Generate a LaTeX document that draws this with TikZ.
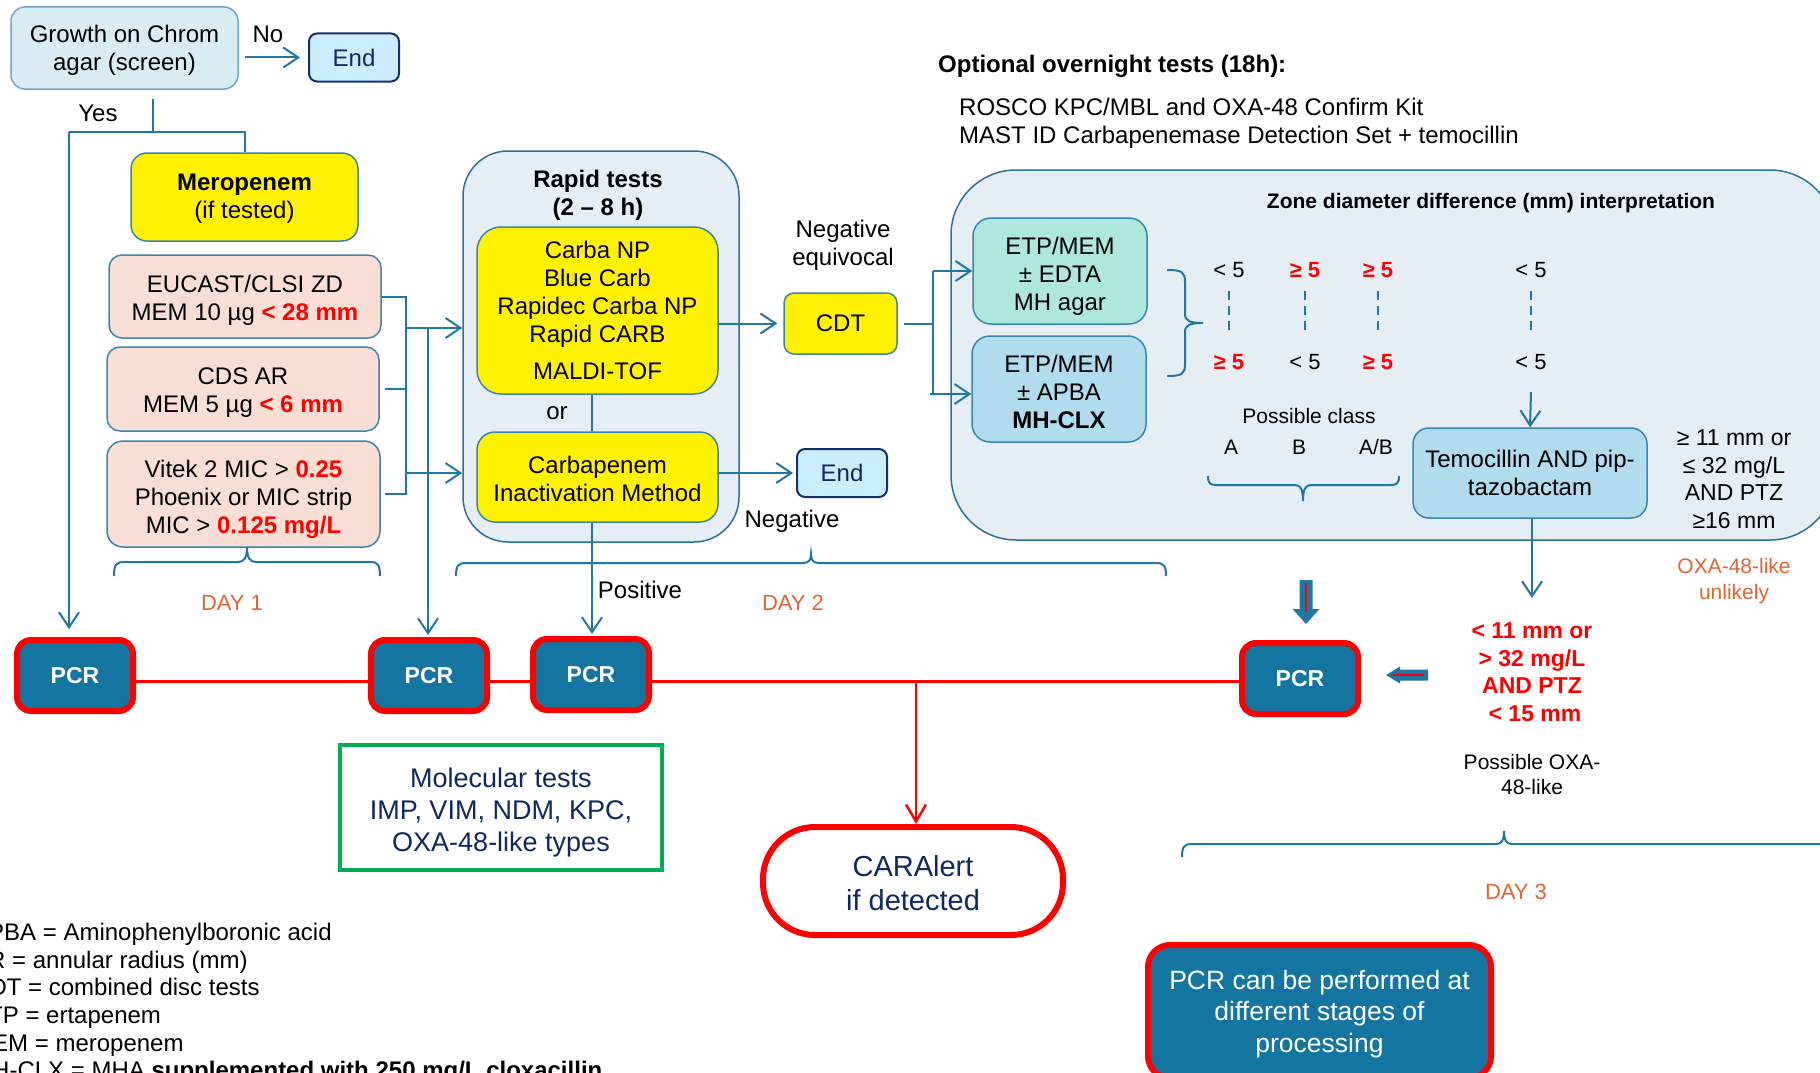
\documentclass[tikz,border=0pt]{standalone}
\usepackage{fontspec}
\setmainfont{Liberation Sans}
\usetikzlibrary{arrows.meta}

\newcommand\fsz[2]{\fontsize{#1}{#2}\selectfont}
% invisible strut that sets the top of the first text line
\newcommand\tp[1]{\rule{0pt}{#1pt}}
\definecolor{lnblue}{RGB}{33,119,163}
\definecolor{bxborder}{RGB}{60,132,176}
\definecolor{growfill}{RGB}{218,236,243}
\definecolor{growline}{RGB}{110,165,205}
\definecolor{endfill}{RGB}{204,236,255}
\definecolor{endline}{RGB}{20,48,110}
\definecolor{peach}{RGB}{248,222,212}
\definecolor{panelfill}{RGB}{230,238,245}
\definecolor{panelline}{RGB}{40,115,155}
\definecolor{aqua}{RGB}{174,232,220}
\definecolor{skyb}{RGB}{176,220,238}
\definecolor{pcrfill}{RGB}{20,118,160}
\definecolor{navy}{RGB}{14,40,100}
\definecolor{dayorange}{RGB}{226,100,50}
\definecolor{molgreen}{RGB}{0,176,80}
\definecolor{alertred}{RGB}{255,0,0}
\newcommand\hl[1]{\textcolor{alertred}{\textbf{#1}}}

\begin{document}
\begin{tikzpicture}[x=1pt,y=-1pt,
  txt/.style={inner sep=0pt, align=center, font=\fsz{24}{28}},
  box/.style={txt, draw=bxborder, line width=1.5pt, rounded corners=13pt},
  endbox/.style={txt, draw=endline, fill=endfill, line width=2pt, rounded corners=8pt,
    minimum width=90pt, minimum height=48pt, text=navy},
  panel/.style={draw=panelline, fill=panelfill, line width=1.5pt, inner sep=0pt},
  pcrbox/.style={draw=alertred, line width=6pt, fill=pcrfill, rounded corners=14pt,
    text=white, font=\fsz{23}{27}\bfseries, minimum width=116pt, minimum height=71pt, inner sep=0pt},
  cell/.style={txt, font=\fsz{22}{26}},
  cellhi/.style={cell, text=alertred, font=\fsz{22}{26}\bfseries},
  small/.style={txt, font=\fsz{21}{25}},
  daylbl/.style={txt, font=\fsz{22}{26}, text=dayorange},
  conn/.style={draw=lnblue, line width=2pt},
  arr/.style={conn, -{Straight Barb[length=15pt,width=20pt]}},
  redline/.style={draw=alertred, line width=3pt},
  redarr/.style={draw=alertred, line width=2.5pt, -{Straight Barb[length=17pt,width=20pt]}},
  dashln/.style={draw=lnblue, line width=2pt, dash pattern=on 9pt off 6pt}]
\useasboundingbox (0,0) rectangle (1820,1073);
\fill[white] (0,0) rectangle (1820,1073);

% large grouping panels
\node[panel, minimum width=276pt, minimum height=391pt, rounded corners=45pt] (rapid) at (601,346.5) {};
\node[panel, minimum width=884pt, minimum height=370pt, rounded corners=65pt] (zone) at (1393,355) {};

% screening and day-1 criteria
\node[box, fill=growfill, draw=growline, minimum width=227pt, minimum height=82pt, rounded corners=14pt] (growth) at (124.5,48) {\tp{21}Growth on Chrom\\agar (screen)};
\node[endbox] (end1) at (354,57.5) {End};
\node[txt] (nolbl) at (268,34) {No};
\node[txt] (yeslbl) at (98,113) {Yes};
\node[box, fill=yellow, minimum width=227pt, minimum height=88pt, rounded corners=16pt] (mero) at (244.5,197) {\tp{20}\textbf{Meropenem}\\(if tested)};
\node[box, fill=peach, minimum width=272pt, minimum height=83pt] (eucast) at (245,296.5) {\tp{24.5}EUCAST/CLSI ZD\\MEM 10 µg \hl{< 28 mm}};
\node[box, fill=peach, minimum width=272pt, minimum height=84pt] (cds) at (243,389) {\tp{24.5}CDS AR\\MEM 5 µg \hl{< 6 mm}};
\node[box, fill=peach, minimum width=273pt, minimum height=106pt, rounded corners=16pt] (vitek) at (243.5,494) {\tp{28}Vitek 2 MIC > \hl{0.25}\\Phoenix or MIC strip\\MIC > \hl{0.125 mg/L}};

% rapid tests
\node[txt, font=\fsz{24}{28}\bfseries] (rapidttl) at (598,195) {Rapid tests\\(2 – 8 h)};
\node[box, fill=yellow, minimum width=241pt, minimum height=167pt, rounded corners=24pt] (yel1) at (597.5,310.5) {Carba NP\\Blue Carb\\Rapidec Carba NP\\Rapid CARB\\[9pt]MALDI-TOF};
\node[txt] (orlbl) at (557,413) {or};
\node[box, fill=yellow, minimum width=241pt, minimum height=90pt, rounded corners=18pt] (yel2) at (597.5,477) {\tp{22}Carbapenem\\Inactivation Method};
\node[box, fill=yellow, minimum width=113pt, minimum height=61pt, rounded corners=10pt] (cdt) at (840.5,323.5) {CDT};
\node[txt] (negeq) at (843,245) {Negative\\equivocal};
\node[endbox] (end2) at (842,473) {End};
\node[txt] (neglbl) at (792,521) {Negative};
\node[txt] (poslbl) at (640,590) {Positive};

% overnight tests
\node[txt, anchor=north west, align=left, font=\fsz{24}{28}\bfseries] (opttitle) at (938,55) {Optional overnight tests (18h):};
\node[txt, anchor=north west, align=left] (optlist) at (959,98) {ROSCO KPC/MBL and OXA-48 Confirm Kit\\MAST ID Carbapenemase Detection Set + temocillin};
\node[txt, font=\fsz{21}{25}\bfseries] (zonettl) at (1491,203) {Zone diameter difference (mm) interpretation};
\node[box, fill=aqua, minimum width=174pt, minimum height=106pt, rounded corners=18pt] (etp1) at (1060,271) {\tp{27}ETP/MEM\\± EDTA\\MH agar};
\node[box, fill=skyb, minimum width=174pt, minimum height=106pt, rounded corners=18pt] (etp2) at (1059,389) {\tp{23.5}ETP/MEM\\± APBA\\\textbf{MH-CLX}};

% interpretation table
\node[cell] (c1t) at (1229,270) {< 5};
\node[cellhi] (c2t) at (1305,270) {≥ 5};
\node[cellhi] (c3t) at (1378,270) {≥ 5};
\node[cell] (c4t) at (1531,270) {< 5};
\node[cellhi] (c1b) at (1229,362) {≥ 5};
\node[cell] (c2b) at (1305,362) {< 5};
\node[cellhi] (c3b) at (1378,362) {≥ 5};
\node[cell] (c4b) at (1531,362) {< 5};
\foreach \c in {c1t,c2t,c3t,c4t}
  \draw[dashln] ([yshift=-21pt]\c.center) -- ([yshift=-65pt]\c.center);
\node[small] (pclass) at (1309,416) {Possible class};
\node[small] (clA) at (1231,447) {A};
\node[small] (clB) at (1299,447) {B};
\node[small] (clAB) at (1376,447) {A/B};
\node[box, fill=skyb, minimum width=234pt, minimum height=90pt, rounded corners=16pt] (temo) at (1530,473) {Temocillin AND pip-\\tazobactam};
\node[txt, font=\fsz{23}{27.5}] (hitemo) at (1734,479) {≥ 11 mm or\\≤ 32 mg/L\\AND PTZ\\≥16 mm};
\node[txt, font=\fsz{21}{26}, text=dayorange] (unlikely) at (1734,581) {OXA-48-like\\unlikely};
\node[txt, font=\fsz{23}{27.5}\bfseries, text=alertred] (lowtemo) at (1532,672) {< 11 mm or\\> 32 mg/L\\AND PTZ\\\hspace*{6pt}< 15 mm};
\node[small] (possoxa) at (1532,774) {Possible OXA-\\48-like};

% PCR stages
\node[pcrbox] (pcr1) at (75,675.5) {PCR};
\node[pcrbox] (pcr2) at (429,675.5) {PCR};
\node[pcrbox] (pcr3) at (591,674.5) {PCR};
\node[pcrbox] (pcr4) at (1300,678.5) {PCR};

% day labels
\node[daylbl] (day1) at (232,603) {DAY 1};
\node[daylbl] (day2) at (793,603) {DAY 2};
\node[daylbl] (day3) at (1516,892) {DAY 3};

% bottom boxes
\node[txt, draw=molgreen, line width=4pt, fill=white, minimum width=322pt, minimum height=125pt, text=navy, font=\fsz{27}{32}] (molec) at (501,807.5) {\tp{30}Molecular tests\\IMP, VIM, NDM, KPC,\\OXA-48-like types};
\node[txt, draw=alertred, line width=6pt, fill=white, minimum width=300pt, minimum height=108pt, rounded corners=52pt, text=navy, font=\fsz{29}{34}] (caral) at (913,881) {\tp{25}CARAlert\\if detected};
\node[txt, draw=alertred, line width=6pt, fill=pcrfill, minimum width=343pt, minimum height=133pt, rounded corners=22pt, text=white, font=\fsz{26.5}{31.5}] (pcrnote) at (1319.5,1011.5) {\tp{24}PCR can be performed at\\different stages of\\processing};

% abbreviations
\node[txt, anchor=north west, align=left, font=\fsz{24}{27.6}] (legend) at (-28,923) {APBA = Aminophenylboronic acid\\AR = annular radius (mm)\\CDT = combined disc tests\\ETP = ertapenem\\MEM = meropenem\\MH-CLX = MHA \textbf{supplemented with 250 mg/L cloxacillin}};

% connectors: screening
\draw[arr, shorten <=6pt, shorten >=8pt] (growth.east |- end1.west) -- (end1.west);
\coordinate (yesJ) at (153,132);
\coordinate (pcrL) at (69,132);
\draw[conn] ([yshift=-9pt]growth.south -| yesJ) -- (yesJ);
\draw[conn] (pcrL) -| (mero.north);
\draw[arr, shorten >=8pt] (pcrL) -- (pcrL |- pcr1.north);

% connectors: day-1 criteria into rapid tests
\coordinate (brtop) at (406,296.5);
\coordinate (brbot) at (406,494);
\draw[conn] (eucast.east) -- (brtop) -- (brbot) -- ([xshift=4pt]vitek.east);
\draw[conn] ([xshift=5pt]cds.east) -- (cds.east -| brtop);
\coordinate (inA) at (406,328);
\coordinate (inB) at (406,473);
\draw[arr] (inA) -- (inA -| rapid.west);
\draw[arr] (inB) -- (inB -| rapid.west);
\coordinate (pcr2in) at (428,328);
\draw[arr, shorten >=2pt] (pcr2in) -- (pcr2in |- pcr2.north);

% connectors: rapid tests
\coordinate (orx) at (592,0);
\draw[conn] (yel1.south -| orx) -- (yel2.north -| orx);
\draw[arr, shorten >=2pt] (yel2.south -| orx) -- (pcr3.north -| orx);
\draw[arr, shorten >=6pt] (yel1.east |- cdt.west) -- (cdt.west);
\draw[arr, shorten >=3pt] (yel2.east |- end2.west) -- (end2.west);

% connectors: CDT to disc tests
\coordinate (sp) at (933,0);
\draw[conn] ([xshift=6pt]cdt.east) -- (cdt.east -| sp);
\draw[conn] (etp1.west -| sp) -- ([yshift=-5pt]etp2.west -| sp);
\draw[arr] (etp1.west -| sp) -- (etp1.west);
\draw[arr] ([xshift=-3pt,yshift=-5pt]etp2.west -| sp) -- ([yshift=-5pt]etp2.west);

% braces
\draw[conn] (1167,270) .. controls (1182,270) and (1185,272) .. (1185,282) -- (1185,314)
  .. controls (1185,321) and (1190,323) .. (1203,323)
  .. controls (1190,323) and (1185,325) .. (1185,332) -- (1185,364)
  .. controls (1185,374) and (1182,376) .. (1167,376);
\draw[conn] (1208,476) .. controls (1208,483) and (1210,485) .. (1216,485) -- (1295,485)
  .. controls (1301,485) and (1303,490) .. (1303,501)
  .. controls (1303,490) and (1305,485) .. (1311,485) -- (1391,485)
  .. controls (1397,485) and (1399,483) .. (1399,476);
\draw[conn] (114,576) .. controls (114,565) and (116,562) .. (124,562) -- (238,562)
  .. controls (244,562) and (247,558) .. (247,547)
  .. controls (247,558) and (250,562) .. (256,562) -- (370,562)
  .. controls (378,562) and (380,565) .. (380,576);
\draw[conn] (456,576) .. controls (456,566) and (458,563) .. (466,563) -- (803,563)
  .. controls (809,563) and (811,560) .. (811,554)
  .. controls (811,560) and (813,563) .. (819,563) -- (1156,563)
  .. controls (1164,563) and (1166,566) .. (1166,576);
\draw[conn] (1182,857) .. controls (1182,847) and (1184,844) .. (1192,844) -- (1496,844)
  .. controls (1502,844) and (1504,840) .. (1504,831)
  .. controls (1504,840) and (1506,844) .. (1512,844) -- (1830,844);

% connectors: temocillin step
\draw[arr] ([yshift=-30pt]c4b.center) -- (temo.north);
\coordinate (redtop) at (1532,598);
\draw[arr] (temo.south -| redtop) -- (redtop);

% block arrows towards the last PCR
\fill[lnblue] (1299.5,580) -- (1312.5,580) -- (1312.5,609) -- (1319.5,609) -- (1306,624)
  -- (1292.5,609) -- (1299.5,609) -- cycle;
\draw[alertred, line width=2.5pt] (1306,583) -- (1306,612);
\fill[lnblue] (1386,675) -- (1400,666.5) -- (1400,669.5) -- (1428,669.5) -- (1428,680.5)
  -- (1400,680.5) -- (1400,683.5) -- cycle;
\draw[alertred, line width=2.5pt] (1393,675) -- (1424,675);

% PCR timeline
\coordinate (rl) at (0,681);
\draw[redline] (pcr1.east |- rl) -- (pcr2.west |- rl);
\draw[redline] (pcr2.east |- rl) -- (pcr3.west |- rl);
\draw[redline] (pcr3.east |- rl) -- (pcr4.west |- rl);
\coordinate (alertJ) at (916,681);
\draw[redarr] (alertJ) -- (alertJ |- caral.north);
\end{tikzpicture}
\end{document}
